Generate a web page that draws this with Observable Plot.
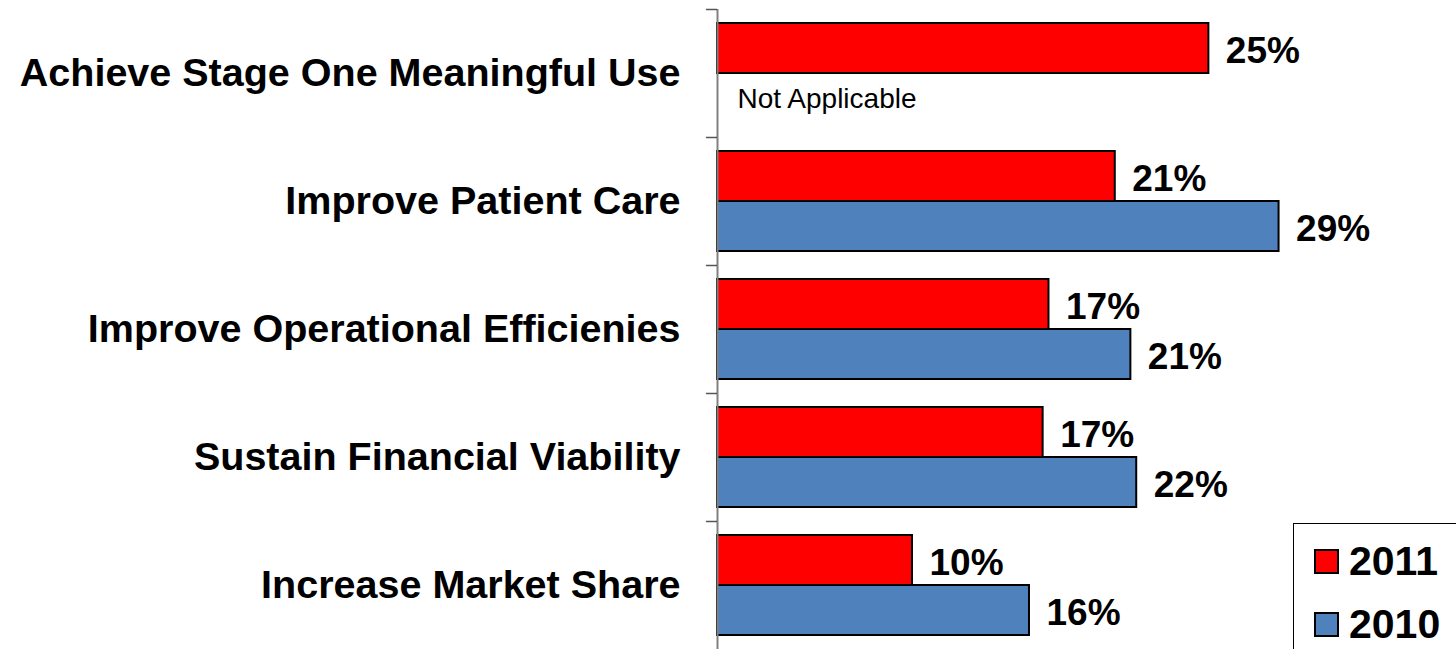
<!DOCTYPE html>
<html>
<head>
<meta charset="utf-8">
<script src="https://cdn.jsdelivr.net/npm/d3@7"></script>
<script src="https://cdn.jsdelivr.net/npm/@observablehq/plot@0.6"></script>
<style>
  html, body { margin: 0; padding: 0; background: #fff; }
  #wrap { position: relative; width: 1456px; height: 649px; overflow: hidden; font-family: "Liberation Sans", Arial, sans-serif; }
  #legend { position: absolute; left: 1293px; top: 523px; width: 200px; height: 160px; border: 1.5px solid #000; box-sizing: border-box; background: #fff; }
  .row { position: absolute; left: 20px; display: flex; align-items: center; font-weight: bold; font-size: 41px; line-height: 1; }
  .sw { width: 21px; height: 21px; border: 2px solid #000; margin-right: 10px; }
</style>
</head>
<body>
<div id="wrap">
  <div id="chart"></div>
  <div id="legend"></div>
</div>
<script>
const categories = [
  "Achieve Stage One Meaningful Use",
  "Improve Patient Care",
  "Improve Operational Efficienies",
  "Sustain Financial Viability",
  "Increase Market Share"
];
const years = ["2011", "2010"];
const values2011 = [25.2, 20.4, 17.0, 16.7, 10.0];
const values2010 = [null, 28.8, 21.2, 21.5, 16.0];
const labels2011 = ["25%", "21%", "17%", "17%", "10%"];
const labels2010 = [null, "29%", "21%", "22%", "16%"];
const yearColors = ["#ff0000", "#4f81bd"];
const notApplicableText = "Not Applicable";

const rows = [];
categories.forEach((c, i) => {
  rows.push({category: c, year: years[0], value: values2011[i], label: labels2011[i]});
  rows.push({category: c, year: years[1], value: values2010[i], label: labels2010[i]});
});
const bars = rows.filter(d => d.value != null);
const na = rows.filter(d => d.value == null).map(d => ({...d, text: notApplicableText}));

const font = "Liberation Sans, Arial, sans-serif";
const chart = Plot.plot({
  width: 1456,
  height: 649,
  marginLeft: 717,
  marginRight: 0,
  marginTop: 9,
  marginBottom: 0,
  style: {fontFamily: font, background: "#fff", overflow: "visible", color: "#000"},
  x: {domain: [0, 37.9], axis: null},
  y: {domain: years, paddingInner: 0, paddingOuter: 0.255, axis: null},
  fy: {domain: categories, padding: 0, label: null},
  color: {domain: years, range: yearColors},
  marks: [
    Plot.barX(bars, {fy: "category", y: "year", x: "value", fill: "year", stroke: "#000", strokeWidth: 2}),
    Plot.text(bars, {fy: "category", y: "year", x: "value", text: "label", textAnchor: "start", dx: 17, dy: 3,
      fontSize: 37, fontWeight: "bold", fill: "#000"}),
    Plot.text(na, {fy: "category", y: "year", x: 0, text: "text", textAnchor: "start", dx: 20, dy: 1,
      fontSize: 28, fill: "#000"}),
    Plot.ruleX([0], {stroke: "#808080", strokeWidth: 2}),
    Plot.axisFy({anchor: "left", tickSize: 0, tickPadding: 37, fontSize: 39.5, fontWeight: "bold", label: null, fill: "#000"}),
    Plot.axisFy({anchor: "left", tickSize: 11, tickFormat: () => "", dy: -64, stroke: "#555", strokeWidth: 1.5, label: null})
  ]
});
document.getElementById("chart").appendChild(chart);

const legend = document.getElementById("legend");
const rowTops = [17, 80];
years.forEach((y, i) => {
  const r = document.createElement("div");
  r.className = "row";
  r.style.top = rowTops[i] + "px";
  const sw = document.createElement("div");
  sw.className = "sw";
  sw.style.background = yearColors[i];
  const t = document.createElement("span");
  t.textContent = y;
  r.appendChild(sw);
  r.appendChild(t);
  legend.appendChild(r);
});
</script>
</body>
</html>
